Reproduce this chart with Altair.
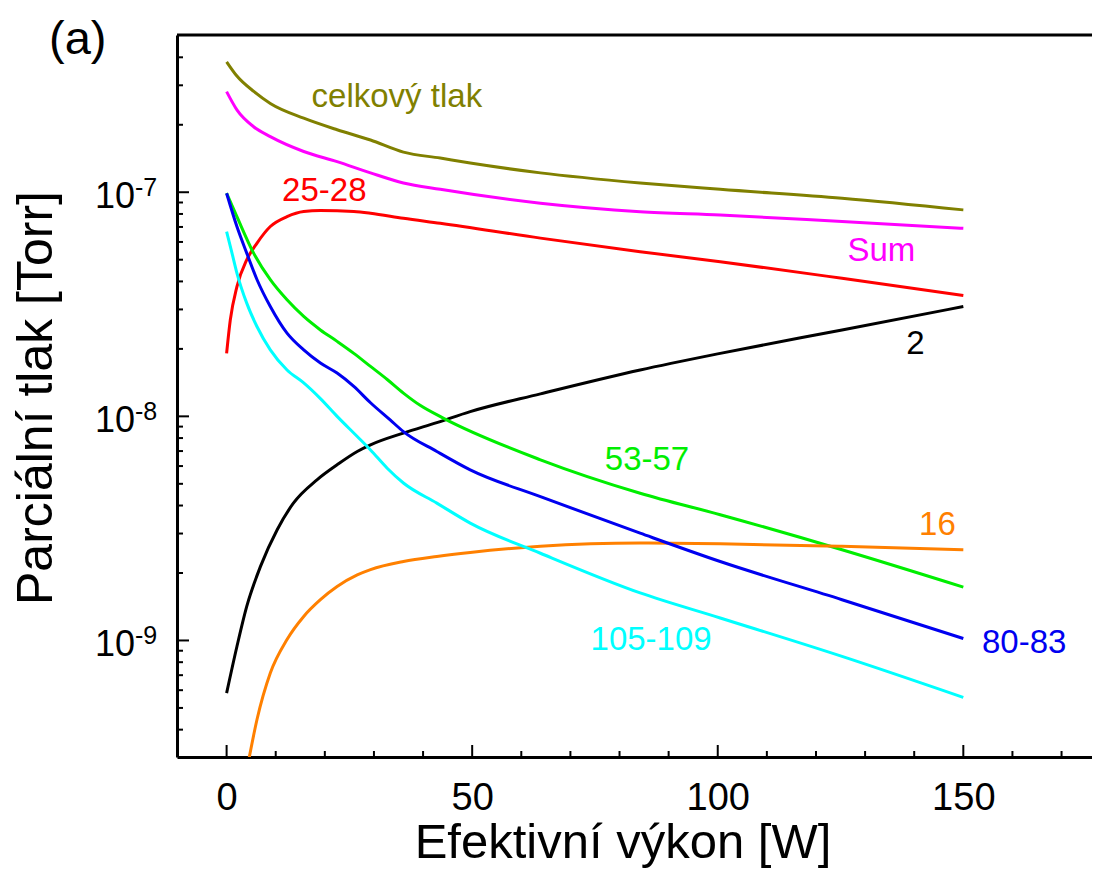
import altair as alt
import pandas as pd

# ---------------- data ----------------
series_names = ["celkový tlak", "Sum", "25-28", "2", "53-57", "16", "105-109", "80-83"]
series_colors = ["#808000", "#ff00ff", "#ff0000", "#000000", "#00ee00", "#ff8000", "#00ffff", "#0000f0"]

total_x = [0, 2.1, 5.6, 8.9, 15.7, 22.5, 29.3, 36, 43.5, 49.6, 63.9, 84.2, 100.5, 125.3, 150]
total_y = [3.82e-7, 3.3e-7, 2.81e-7, 2.49e-7, 2.14e-7, 1.90e-7, 1.71e-7, 1.51e-7, 1.42e-7, 1.35e-7,
           1.22e-7, 1.10e-7, 1.03e-7, 9.4e-8, 8.34e-8]

sum_x = [0, 2.1, 5.5, 8.9, 15.7, 22.5, 29.3, 36, 43.5, 63.9, 84.2, 100.5, 125.3, 150]
sum_y = [2.81e-7, 2.33e-7, 1.96e-7, 1.77e-7, 1.52e-7, 1.37e-7, 1.22e-7, 1.10e-7, 1.03e-7,
         8.93e-8, 8.19e-8, 7.92e-8, 7.4e-8, 6.9e-8]

m25_x = [0, 0.75, 2.1, 4.1, 6.2, 8.9, 12.3, 15.7, 19.1, 25.9, 29.3, 36, 43.5, 63.9, 84.2, 100.5, 125.3, 150]
m25_y = [1.91e-8, 2.69e-8, 3.79e-8, 4.99e-8, 5.93e-8, 7.03e-8, 7.78e-8, 8.2e-8, 8.28e-8, 8.2e-8,
         8.06e-8, 7.65e-8, 7.27e-8, 6.24e-8, 5.43e-8, 4.9e-8, 4.13e-8, 3.46e-8]

m2_x = [0, 2.1, 4.1, 6.9, 10.3, 13.6, 18.4, 22.5, 26.6, 29.3, 36, 42.8, 49.6, 63.9, 84.2, 100.5, 125.3, 150]
m2_y = [5.82e-10, 9.4e-10, 1.42e-9, 2.14e-9, 3.12e-9, 4.1e-9, 5.21e-9, 6.08e-9, 6.97e-9,
        7.46e-9, 8.42e-9, 9.38e-9, 1.05e-8, 1.26e-8, 1.61e-8, 1.91e-8, 2.43e-8, 3.09e-8]

m53_x = [0, 2.1, 5.5, 8.9, 12.3, 15.7, 19.1, 22.5, 25.9, 29.3, 32.7, 36, 39.4, 44.2, 63.9, 84.2, 100.5, 125.3, 150]
m53_y = [9.9e-8, 7.78e-8, 5.35e-8, 4.07e-8, 3.31e-8, 2.79e-8, 2.43e-8, 2.16e-8, 1.91e-8, 1.67e-8,
         1.46e-8, 1.27e-8, 1.12e-8, 9.8e-9, 6.4e-9, 4.54e-9, 3.64e-9, 2.54e-9, 1.73e-9]

m16_x = [4.6, 6.2, 8.9, 12.3, 15.7, 19.1, 22.5, 26.6, 29.3, 36, 42.8, 49.6, 63.9, 84.2, 100.5, 125.3, 150]
m16_y = [3.0e-10, 4.45e-10, 7.16e-10, 1.01e-9, 1.28e-9, 1.52e-9, 1.74e-9, 1.96e-9, 2.07e-9, 2.25e-9,
         2.37e-9, 2.47e-9, 2.63e-9, 2.72e-9, 2.7e-9, 2.63e-9, 2.54e-9]

m105_x = [0, 1.1, 2.1, 4.1, 6.2, 8.9, 12.3, 15.7, 19.1, 22.5, 26.6, 29.3, 32.7, 36, 42.8, 49.6,
          63.9, 84.2, 100.5, 125.3, 150]
m105_y = [6.67e-8, 5.35e-8, 4.36e-8, 3.2e-8, 2.51e-8, 1.98e-8, 1.61e-8, 1.41e-8, 1.20e-8, 1.0e-8,
          8.13e-9, 7.08e-9, 5.87e-9, 5.04e-9, 4.1e-9, 3.34e-9, 2.45e-9, 1.63e-9, 1.26e-9, 8.49e-10, 5.57e-10]

m80_x = [0, 2.1, 4.1, 6.2, 8.9, 12.3, 15.7, 19.1, 22.5, 25.9, 29.3, 33.3, 36, 42.8, 49.6, 63.9,
         84.2, 100.5, 125.3, 150]
m80_y = [9.9e-8, 7.03e-8, 5.35e-8, 4.07e-8, 3.09e-8, 2.35e-8, 1.98e-8, 1.73e-8, 1.56e-8, 1.36e-8,
         1.15e-8, 9.64e-9, 8.55e-9, 6.97e-9, 5.77e-9, 4.38e-9, 3.01e-9, 2.25e-9, 1.52e-9, 1.02e-9]

# curve labels
label_text = ["celkový tlak", "Sum", "25-28", "2", "53-57", "16", "105-109", "80-83"]
label_x = [17.3, 126.4, 11.3, 138.4, 77.0, 141.0, 74.1, 153.8]
label_y = [2.39e-7, 4.94e-8, 9.15e-8, 1.894e-8, 5.77e-9, 2.94e-9, 9.09e-10, 8.79e-10]

# axis decorations
x_major = [0, 50, 100, 150]
x_minor = [10, 20, 30, 40, 60, 70, 80, 90, 110, 120, 130, 140, 160, 170]
y_major = [1e-9, 1e-8, 1e-7]
y_major_exp = ["-9", "-8", "-7"]
y_minor = [4e-10, 5e-10, 6e-10, 7e-10, 8e-10, 9e-10,
           2e-9, 3e-9, 4e-9, 5e-9, 6e-9, 7e-9, 8e-9, 9e-9,
           2e-8, 3e-8, 4e-8, 5e-8, 6e-8, 7e-8, 8e-8, 9e-8,
           2e-7, 3e-7, 4e-7]

x_title = "Efektivní výkon [W]"
y_title = "Parciální tlak [Torr]"
panel_tag = "(a)"

# ---------------- build ----------------
W, H = 915, 722
FONT = "Liberation Sans"

rows = []
for name, xs, ys in [
    ("celkový tlak", total_x, total_y), ("Sum", sum_x, sum_y), ("25-28", m25_x, m25_y),
    ("2", m2_x, m2_y), ("53-57", m53_x, m53_y), ("16", m16_x, m16_y),
    ("105-109", m105_x, m105_y), ("80-83", m80_x, m80_y),
]:
    for xv, yv in zip(xs, ys):
        rows.append({"series": name, "x": xv, "y": yv})
df_lines = pd.DataFrame(rows)
df_labels = pd.DataFrame({"series": label_text, "x": label_x, "y": label_y})

x_scale = alt.Scale(domain=[-10.1, 176.2], nice=False, zero=False)
y_scale = alt.Scale(type="log", domain=[3.02e-10, 5.03e-7], nice=False)
color_scale = alt.Scale(domain=series_names, range=series_colors)

x_axis = alt.Axis(values=x_major, title=None, grid=False, ticks=False, tickSize=0,
                  labelFontSize=38, labelFont=FONT, labelColor="black",
                  labelBaseline="alphabetic", labelPadding=52, labelFlush=False,
                  domainColor="black", domainWidth=3)
y_axis = alt.Axis(title=None, grid=False, ticks=False, tickSize=0, labels=False,
                  domainColor="black", domainWidth=3)

X = lambda f: alt.X(f, type="quantitative", scale=x_scale, axis=x_axis)
Y = lambda f: alt.Y(f, type="quantitative", scale=y_scale, axis=y_axis)

lines = alt.Chart(df_lines).mark_line(strokeWidth=3, clip=True, interpolate="monotone").encode(
    x=X("x"), y=Y("y"),
    color=alt.Color("series:N", scale=color_scale, legend=None),
    order=alt.Order("x:Q"),
)

labels = alt.Chart(df_labels).mark_text(align="left", baseline="alphabetic", fontSize=33, font=FONT).encode(
    x=X("x"), y=Y("y"), text="series:N",
    color=alt.Color("series:N", scale=color_scale, legend=None),
)

xmaj = alt.Chart(pd.DataFrame({"v": x_major})).mark_rule(strokeWidth=2, color="black").encode(
    x=X("v"), y=alt.value(H), y2=alt.value(H - 12))
xmin = alt.Chart(pd.DataFrame({"v": x_minor})).mark_rule(strokeWidth=2, color="black").encode(
    x=X("v"), y=alt.value(H), y2=alt.value(H - 6))
ymaj = alt.Chart(pd.DataFrame({"v": y_major})).mark_rule(strokeWidth=2, color="black").encode(
    y=Y("v"), x=alt.value(0), x2=alt.value(12))
ymin = alt.Chart(pd.DataFrame({"v": y_minor})).mark_rule(strokeWidth=2, color="black").encode(
    y=Y("v"), x=alt.value(0), x2=alt.value(6))

top_border = alt.Chart(pd.DataFrame({"v": [0]})).mark_rule(strokeWidth=3, color="black").encode(
    x=alt.value(0), x2=alt.value(W), y=alt.value(0))

df_ylab = pd.DataFrame({"v": y_major, "base": ["10"] * len(y_major), "exp": y_major_exp})
ylab_base = alt.Chart(df_ylab).mark_text(align="right", baseline="alphabetic", dy=16,
                                         fontSize=36, font=FONT, color="black").encode(
    y=Y("v"), x=alt.value(-42), text="base:N")
ylab_exp = alt.Chart(df_ylab).mark_text(align="left", baseline="alphabetic", dy=4,
                                        fontSize=25, font=FONT, color="black").encode(
    y=Y("v"), x=alt.value(-42), text="exp:N")

xt = alt.Chart(pd.DataFrame({"t": [x_title]})).mark_text(
    align="center", baseline="alphabetic", fontSize=49, font=FONT, color="black").encode(
    text="t:N", x=alt.value(446), y=alt.value(H + 101))
yt = alt.Chart(pd.DataFrame({"t": [y_title]})).mark_text(
    align="center", baseline="alphabetic", fontSize=50, font=FONT, color="black", angle=270).encode(
    text="t:N", x=alt.value(-125), y=alt.value(363))
tag = alt.Chart(pd.DataFrame({"t": [panel_tag]})).mark_text(
    align="left", baseline="alphabetic", fontSize=47, font=FONT, color="black").encode(
    text="t:N", x=alt.value(-128), y=alt.value(19))

chart = alt.layer(
    lines, labels, xmaj, xmin, ymaj, ymin, top_border, ylab_base, ylab_exp, xt, yt, tag
).properties(
    width=W, height=H,
    autosize=alt.AutoSizeParams(type="none"),
    padding={"left": 169, "top": 27, "right": 0, "bottom": 114},
).configure_view(stroke=None).configure(background="white")

chart.save("out.html", embed_options={"renderer": "svg", "actions": False})
